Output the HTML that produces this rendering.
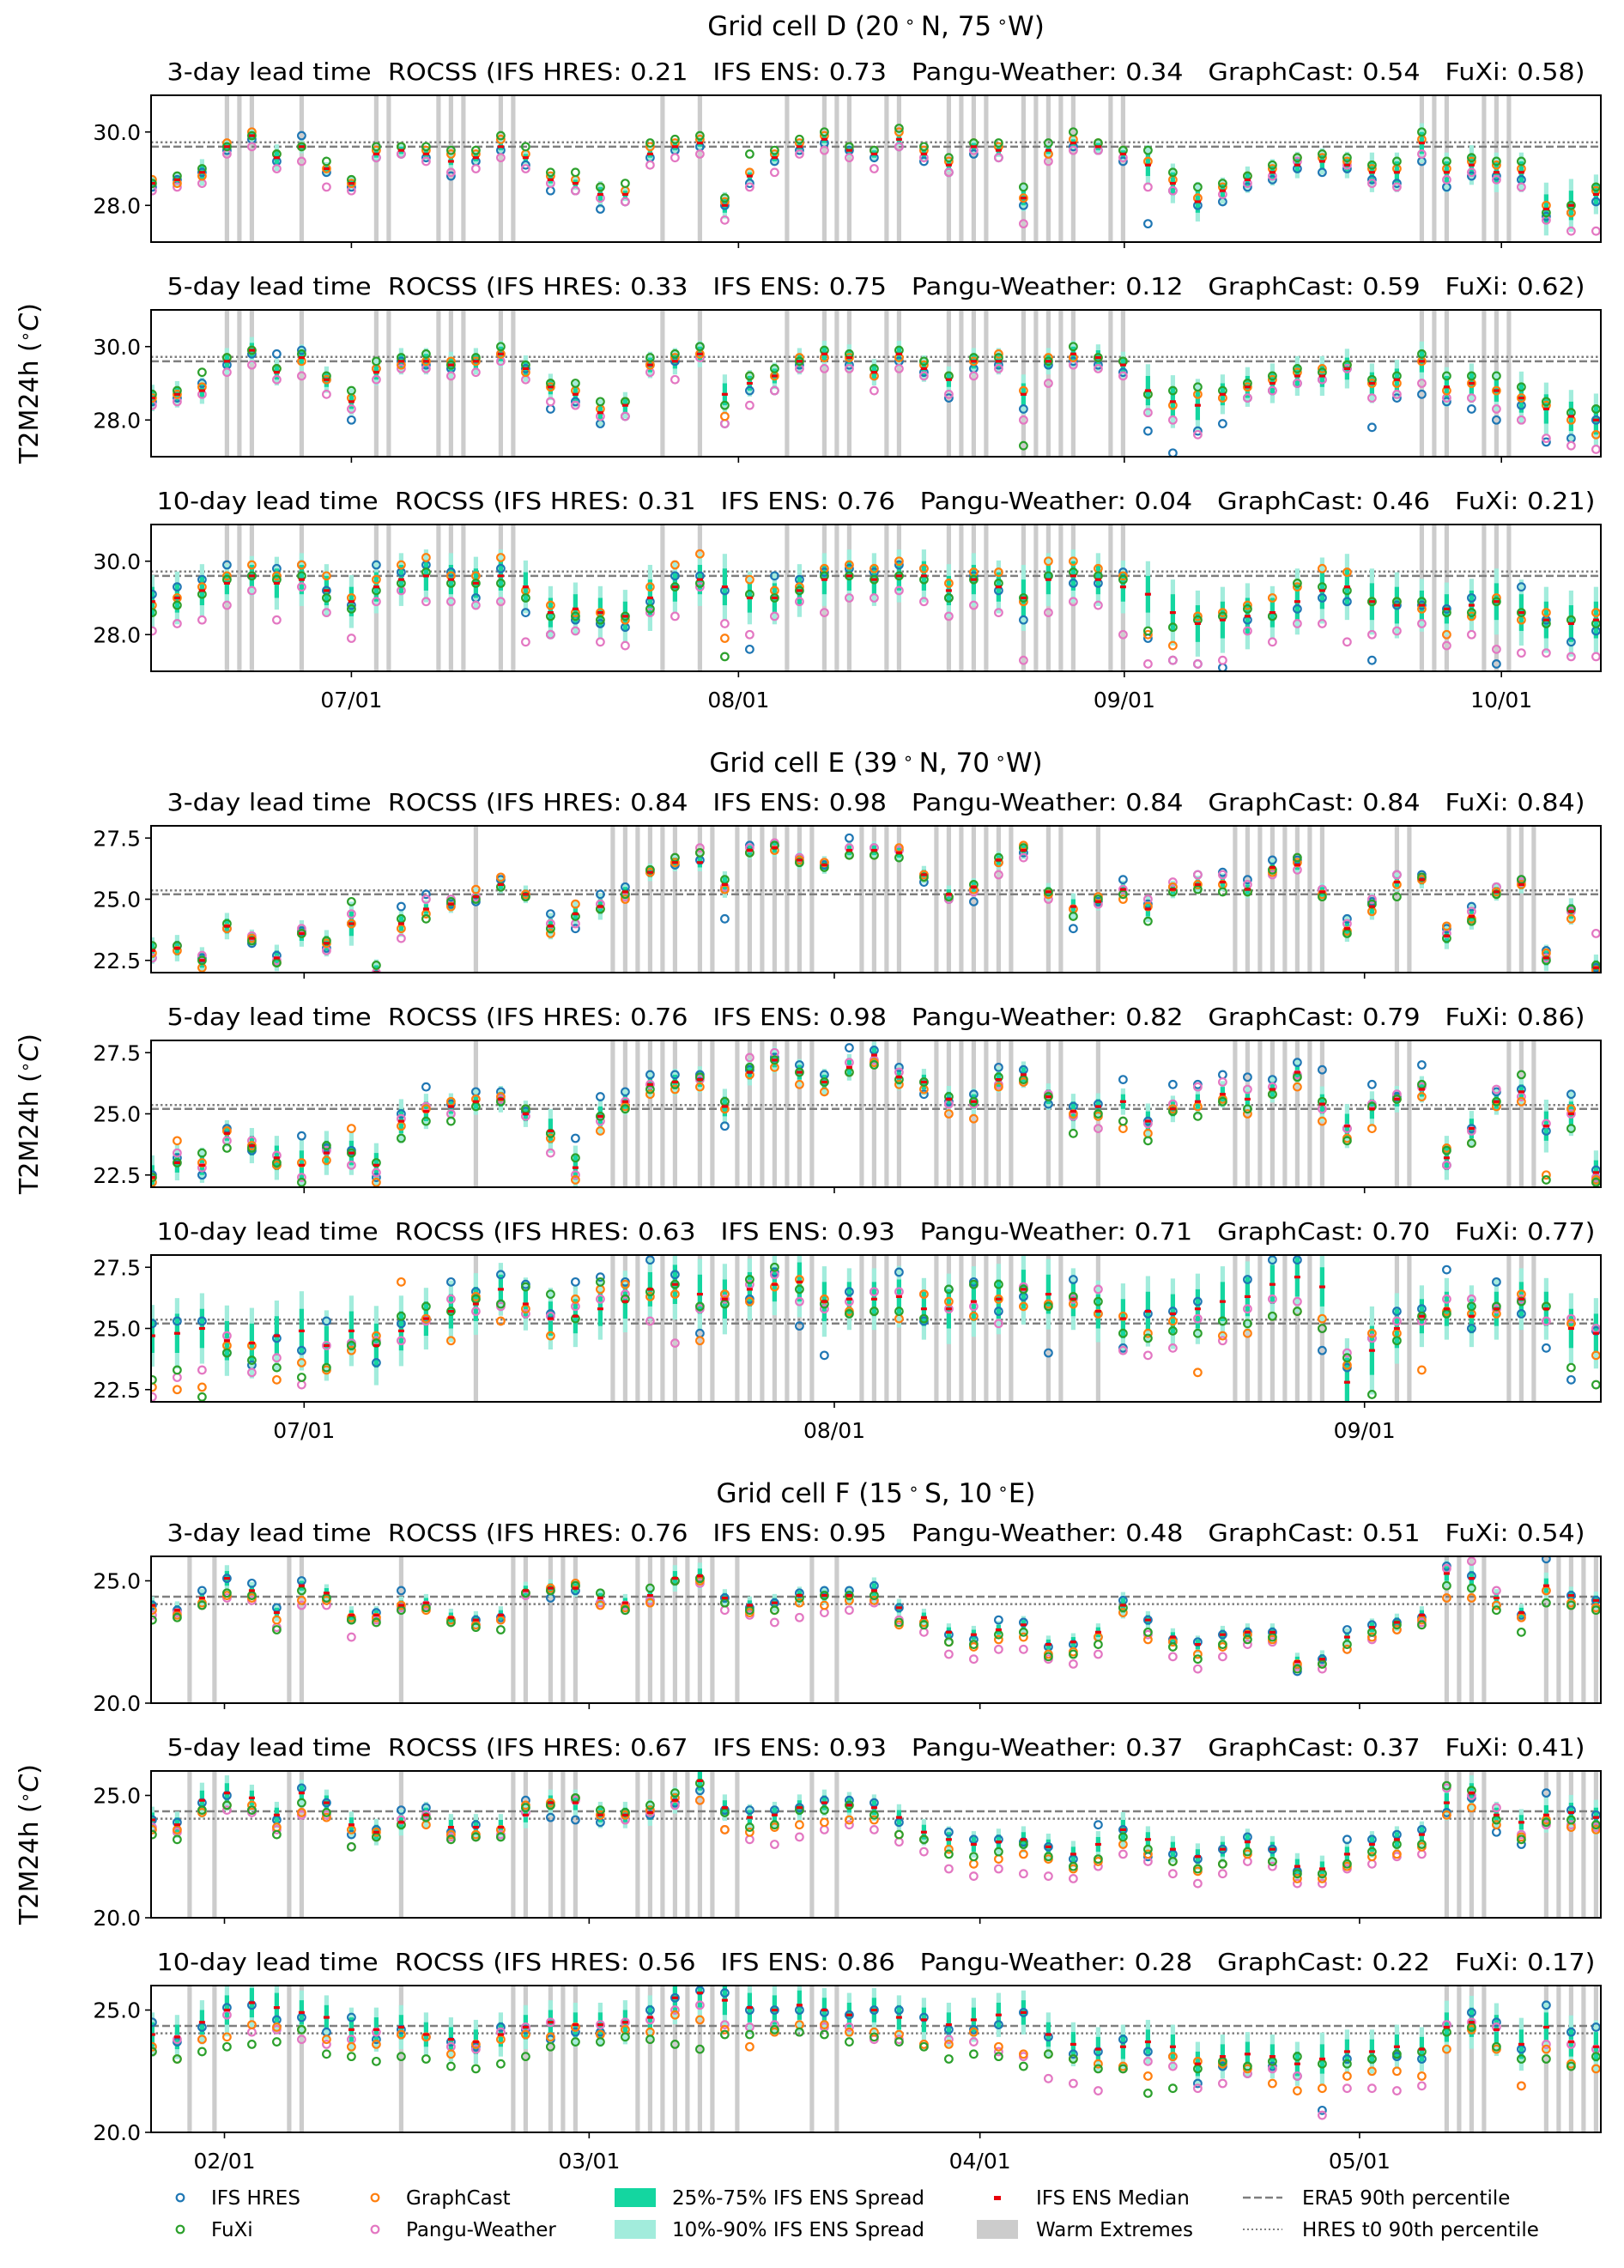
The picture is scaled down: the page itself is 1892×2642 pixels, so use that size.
<!DOCTYPE html>
<html><head><meta charset="utf-8"><style>
html,body{margin:0;padding:0;background:#fff;}
svg{display:block;font-family:"DejaVu Sans","Liberation Sans",sans-serif;}
.pre{white-space:pre;}
</style></head><body>
<svg id="fig" width="1892" height="2642" viewBox="0 0 1892 2642" xmlns="http://www.w3.org/2000/svg"></svg>
<script>
// ---------- DATA (every 2nd daily sample) ----------
const D3_med=[28.6,28.7,28.9,29.6,29.9,29.3,29.6,29.0,28.6,29.4,29.5,29.4,29.2,29.3,29.6,29.3,28.7,28.6,28.3,28.3,29.4,29.6,29.7,28.0,28.8,29.3,29.6,29.8,29.5,29.4,29.8,29.4,29.1,29.6,29.5,28.2,29.5,29.7,29.6,29.4,29.1,28.6,28.1,28.4,28.7,28.9,29.1,29.2,29.1,28.9,28.9,29.7,28.9,29.1,28.9,28.9,27.9,28.0,28.3];
const D3_hres=[28.5,28.7,28.9,29.5,29.8,29.2,29.9,28.9,28.5,29.3,29.4,29.3,28.8,29.2,29.5,29.1,28.4,28.4,27.9,28.1,29.3,29.5,29.6,28.0,28.6,29.2,29.5,29.7,29.5,29.3,29.6,29.2,28.9,29.4,29.3,28.0,29.4,29.6,29.5,29.2,27.5,28.4,28.0,28.1,28.5,28.7,29.0,28.9,29.0,28.7,28.6,29.2,28.5,28.8,28.8,28.7,27.7,27.8,28.1];
const D3_gc=[28.7,28.6,28.8,29.7,30.0,29.4,29.6,29.0,28.6,29.5,29.6,29.5,29.4,29.4,29.8,29.4,28.8,28.7,28.5,28.4,29.6,29.7,29.8,28.1,28.9,29.4,29.7,29.9,29.6,29.5,30.0,29.5,29.2,29.7,29.6,28.2,29.4,29.8,29.7,29.5,29.2,28.7,28.2,28.5,28.8,29.0,29.3,29.3,29.2,29.0,29.0,29.8,29.0,29.2,29.1,29.0,28.0,27.8,28.4];
const D3_fx=[28.6,28.8,29.0,29.6,29.9,29.4,29.6,29.2,28.7,29.6,29.6,29.6,29.5,29.5,29.9,29.6,28.9,28.9,28.5,28.6,29.7,29.8,29.9,28.2,29.4,29.5,29.8,30.0,29.6,29.5,30.1,29.6,29.3,29.7,29.7,28.5,29.7,30.0,29.7,29.5,29.5,28.9,28.5,28.6,28.8,29.1,29.3,29.4,29.3,29.1,29.2,30.0,29.2,29.3,29.2,29.2,27.8,28.0,28.5];
const D3_pw=[28.4,28.5,28.6,29.4,29.6,29.0,29.2,28.5,28.4,29.3,29.4,29.2,28.9,29.0,29.3,29.0,28.6,28.4,28.2,28.1,29.1,29.3,29.4,27.6,28.5,28.9,29.4,29.5,29.3,29.0,29.6,29.3,28.9,29.5,29.3,27.5,29.2,29.5,29.5,29.3,28.5,28.4,28.2,28.3,28.6,28.8,29.2,29.3,29.1,28.6,28.5,29.4,28.7,28.9,28.7,28.5,27.6,27.3,27.3];
const D3_sp=[1,1,2,1,1,2,1,1,1,1,1,1,1,1,1,1,1,1,2,1,1,1,1,2,1,1,1,1,1,1,1,1,1,1,1,2,1,1,1,1,3,3,3,2,2,2,2,2,2,3,3,3,3,3,3,3,4,4,3];

const D5_med=[28.6,28.7,28.8,29.6,29.9,29.3,29.7,29.1,28.5,29.3,29.6,29.6,29.5,29.6,29.8,29.4,28.9,28.7,28.2,28.4,29.5,29.6,29.8,28.7,29.0,29.2,29.6,29.8,29.7,29.3,29.8,29.4,29.1,29.6,29.6,28.7,29.6,29.8,29.7,29.5,28.8,28.5,28.4,28.7,28.9,29.0,29.2,29.2,29.4,29.0,29.1,29.6,28.9,29.0,28.8,28.6,28.3,28.1,28.0];
const D5_hres=[28.5,28.6,29.0,29.5,29.8,29.8,29.9,29.1,28.0,29.4,29.6,29.5,29.4,29.6,29.8,29.4,28.3,28.5,27.9,28.1,29.5,29.6,30.0,27.9,28.8,28.8,29.5,29.7,29.5,29.2,29.6,29.3,28.6,29.4,29.5,28.3,29.5,29.6,29.5,29.3,27.7,27.1,27.7,27.9,28.6,28.8,29.0,29.1,29.4,27.8,28.6,28.7,28.5,28.3,28.0,28.4,27.4,27.5,28.0];
const D5_gc=[28.6,28.7,28.9,29.7,29.9,29.4,29.6,29.1,28.6,29.4,29.5,29.6,29.6,29.6,29.8,29.3,28.9,28.8,28.3,28.5,29.5,29.7,29.8,28.1,29.2,29.2,29.7,29.7,29.7,29.2,29.7,29.5,29.2,29.6,29.8,28.8,29.7,29.7,29.7,29.6,28.7,28.4,28.7,28.6,28.9,29.1,29.3,29.4,29.5,29.0,29.0,29.6,28.8,29.0,28.8,28.6,28.4,28.0,27.6];
const D5_fx=[28.7,28.8,29.3,29.7,29.9,29.4,29.8,29.2,28.8,29.6,29.7,29.8,29.5,29.7,30.0,29.5,29.0,29.0,28.5,28.5,29.7,29.8,30.0,28.4,29.2,29.4,29.6,29.9,29.8,29.4,29.9,29.6,29.2,29.7,29.7,27.3,29.6,30.0,29.7,29.6,28.7,28.8,28.9,28.8,29.0,29.2,29.4,29.3,29.5,29.1,29.2,29.8,29.2,29.2,29.2,28.9,28.5,28.2,28.3];
const D5_pw=[28.4,28.5,28.7,29.3,29.5,29.1,29.2,28.7,28.3,29.1,29.4,29.4,29.2,29.3,29.6,29.1,28.5,28.4,28.1,28.1,29.3,29.1,29.7,27.9,28.4,28.8,29.4,29.4,29.4,28.8,29.4,29.2,28.7,29.2,29.4,28.0,29.0,29.5,29.4,29.2,28.2,28.0,27.6,28.6,28.6,28.8,29.0,29.1,29.4,28.6,28.7,29.0,28.6,28.6,28.3,28.0,27.5,27.3,27.2];
const D5_sp=[2,2,2,2,2,2,2,2,2,2,2,2,2,2,2,2,2,2,2,2,2,2,2,3,2,2,2,2,2,2,2,2,2,2,2,3,2,2,2,2,4,4,4,3,3,3,3,3,3,3,3,3,3,3,3,4,4,4,4];

const D10_med=[28.9,29.0,29.2,29.4,29.6,29.4,29.5,29.2,28.9,29.3,29.5,29.6,29.5,29.4,29.6,29.3,28.6,28.7,28.6,28.5,29.0,29.3,29.5,29.3,29.0,29.0,29.2,29.5,29.6,29.5,29.6,29.6,29.2,29.5,29.3,29.0,29.5,29.6,29.5,29.3,29.1,28.6,28.3,28.4,28.5,28.6,28.9,29.2,29.3,28.9,28.8,28.8,28.7,28.8,28.9,28.6,28.4,28.3,28.4];
const D10_hres=[29.1,29.3,29.5,29.9,29.6,29.8,29.9,29.2,28.8,29.9,29.7,29.9,29.7,29.0,29.8,28.6,28.0,28.4,28.3,28.2,28.9,29.6,29.6,29.2,27.6,29.6,29.5,29.7,29.8,29.7,29.9,29.8,29.0,29.6,29.2,28.4,29.6,29.4,29.4,29.7,27.9,27.3,27.2,27.1,28.4,28.5,28.7,29.0,28.9,27.3,28.8,28.8,28.7,29.0,27.2,29.3,28.4,27.8,28.1];
const D10_gc=[28.8,29.0,29.3,29.6,29.9,29.6,29.9,29.6,29.0,29.5,29.9,30.1,29.6,29.6,30.1,29.2,28.8,28.6,28.6,28.4,29.3,29.9,30.2,27.9,29.5,29.2,29.3,29.8,29.9,29.8,30.0,29.8,29.4,29.7,29.7,28.9,30.0,30.0,29.8,29.6,28.0,27.7,28.5,28.6,28.8,29.0,29.3,29.8,29.7,28.9,28.9,28.7,28.0,28.5,29.0,28.4,28.6,28.4,28.6];
const D10_fx=[28.6,28.8,29.1,29.5,29.6,29.5,29.6,29.0,28.7,29.2,29.4,29.7,29.4,29.4,29.4,29.0,28.5,28.5,28.4,28.5,28.7,29.3,29.4,27.4,29.1,29.0,29.2,29.6,29.6,29.5,29.6,29.5,29.0,29.5,29.4,29.0,29.6,29.7,29.6,29.5,28.1,28.2,28.4,28.5,28.7,28.5,29.4,29.3,29.2,28.9,28.9,28.9,28.6,28.6,28.9,28.6,28.3,28.4,28.3];
const D10_pw=[28.1,28.3,28.4,28.8,29.2,28.4,29.3,28.6,27.9,28.9,29.2,28.9,28.9,28.8,28.9,27.8,28.0,28.1,27.8,27.7,28.6,28.5,29.3,28.3,28.0,28.5,28.9,28.6,29.0,29.0,29.2,28.9,28.5,28.8,28.6,27.3,28.6,28.9,28.8,28.0,27.2,27.3,27.2,27.3,28.1,27.8,28.3,28.3,27.8,28.0,28.1,28.3,27.7,28.0,27.6,27.5,27.5,27.4,27.4];
const D10_sp=[4,4,4,3,3,4,4,4,4,4,4,4,4,4,4,4,4,4,4,4,5,4,4,5,4,4,4,4,4,4,4,4,4,4,4,5,4,4,4,4,5,5,5,5,5,4,5,5,5,5,5,4,4,4,5,5,5,5,5];

const E3_med=[22.9,23.0,22.5,23.9,23.4,22.6,23.6,23.2,24.0,22.0,24.0,24.6,24.8,25.1,25.6,25.2,23.9,24.4,24.7,25.3,26.1,26.5,26.5,25.6,27.0,27.1,26.6,26.4,27.0,27.0,26.9,26.0,25.2,25.5,26.6,27.0,25.3,24.7,24.9,25.4,24.6,25.4,25.6,25.7,25.4,26.3,26.4,25.3,23.8,24.7,25.7,25.8,23.5,24.3,25.3,25.6,22.6,24.5,22.2];
const E3_hres=[22.6,23.1,22.6,23.8,23.2,22.7,23.7,23.0,24.0,21.9,24.7,25.2,24.8,24.9,25.8,25.1,24.4,23.8,25.2,25.5,26.1,26.4,26.6,24.2,27.2,27.2,26.7,26.4,27.5,27.1,27.0,25.7,25.0,24.9,26.5,26.9,25.2,23.8,24.9,25.8,24.8,25.5,26.0,26.1,25.8,26.6,26.6,25.4,24.2,24.9,26.0,26.0,23.8,24.7,25.5,25.8,22.9,24.6,22.2];
const E3_gc=[22.8,22.9,22.2,23.8,23.4,22.4,23.6,23.2,24.0,21.8,23.8,24.4,24.7,25.4,25.9,25.2,23.6,24.8,24.6,25.0,26.1,26.5,26.9,25.4,26.9,27.0,26.6,26.5,26.8,26.8,27.1,26.0,25.1,25.4,26.5,27.2,25.2,24.6,25.1,25.0,24.7,25.5,25.6,25.6,25.3,26.1,26.5,25.2,23.7,24.5,25.6,25.8,23.9,24.2,25.3,25.6,22.8,24.2,22.1];
const E3_fx=[23.1,23.1,22.5,24.0,23.3,22.4,23.6,23.3,24.9,22.3,24.2,24.2,24.9,25.0,25.5,25.1,23.8,24.3,24.6,25.2,26.2,26.7,26.9,25.8,26.9,27.2,26.5,26.3,26.8,26.8,26.7,25.9,25.1,25.6,26.7,27.1,25.3,24.3,25.0,25.2,24.1,25.3,25.4,25.3,25.3,26.2,26.7,25.1,23.6,24.8,25.1,25.9,23.4,24.1,25.2,25.8,22.5,24.6,22.3];
const E3_pw=[22.6,23.1,22.7,23.8,23.5,22.5,23.8,22.9,24.4,22.0,23.4,25.0,25.0,25.1,25.5,25.2,24.0,24.0,24.8,25.1,26.2,26.7,27.1,25.5,27.1,27.3,26.7,26.5,27.1,27.1,27.0,26.0,25.0,25.3,26.0,26.7,25.0,24.6,24.8,25.4,25.0,25.7,26.0,26.0,25.6,26.0,26.2,25.4,24.0,25.0,26.0,25.9,23.6,24.5,25.5,25.7,22.6,24.5,23.6];
const E3_sp=[3,3,3,3,2,3,3,3,5,3,3,2,2,2,2,2,3,3,3,2,2,2,2,3,2,2,2,2,2,2,2,2,2,2,2,2,2,3,2,2,3,2,2,2,2,2,2,2,3,3,2,2,3,3,2,2,3,3,3];

const E5_med=[22.4,23.0,22.9,24.2,23.7,23.2,22.9,23.4,23.4,22.9,24.7,25.1,25.3,25.5,25.6,25.0,24.3,22.8,24.9,25.5,26.2,26.3,26.4,25.3,26.7,27.2,26.7,26.3,26.9,27.4,26.5,26.3,25.6,25.5,26.4,26.6,25.7,25.1,25.3,25.5,24.7,25.2,25.5,25.8,25.6,26.0,26.7,25.4,24.5,25.2,25.6,26.0,23.2,24.4,25.5,25.9,24.5,25.0,22.6];
const E5_hres=[22.5,23.2,22.5,24.4,23.5,22.9,24.1,23.6,23.5,22.4,25.0,26.1,25.4,25.9,25.9,25.1,24.2,24.0,25.7,25.9,26.6,26.6,26.6,24.5,26.8,27.3,27.0,26.6,27.7,27.6,26.9,25.8,25.5,25.8,26.9,26.8,25.4,25.3,25.4,26.4,24.7,26.2,26.2,26.6,26.5,26.4,27.1,26.8,24.4,26.2,25.7,27.0,22.9,24.4,25.9,26.0,24.3,25.8,22.7];
const E5_gc=[22.2,23.9,23.0,24.3,23.7,22.9,23.0,23.1,24.4,22.2,24.5,25.2,25.5,25.6,25.7,25.2,24.0,22.3,24.3,25.3,25.8,26.0,26.1,25.2,26.6,26.9,26.2,25.9,26.7,27.1,26.2,26.0,25.0,24.8,26.1,26.3,25.7,25.0,24.9,24.4,24.2,25.2,25.3,25.6,25.0,25.8,26.1,24.7,24.0,24.4,25.6,25.7,23.6,23.8,25.3,25.5,22.5,25.2,22.3];
const E5_fx=[22.4,23.0,23.4,23.6,23.6,23.0,22.2,23.7,23.4,23.0,24.0,24.7,24.7,25.3,25.5,25.2,24.2,23.2,24.9,25.2,26.0,26.2,26.5,25.5,26.9,27.2,26.7,26.3,26.7,27.0,26.4,26.3,25.7,25.5,26.5,26.4,25.7,24.2,25.0,24.7,23.9,25.1,24.9,25.5,25.2,25.8,26.5,25.5,23.9,25.3,25.6,26.2,23.5,23.8,25.5,26.6,22.3,24.4,22.2];
const E5_pw=[22.4,23.4,22.8,23.9,23.9,23.3,22.4,23.5,22.9,22.6,24.8,25.3,25.0,25.6,25.6,24.9,23.4,22.5,24.7,25.5,26.2,26.2,26.4,25.5,27.3,27.5,26.7,26.3,27.1,27.2,26.7,26.3,25.4,25.4,26.2,26.3,25.8,24.9,24.4,24.7,24.6,25.4,26.1,26.3,26.0,26.1,26.6,25.2,24.4,25.4,25.8,26.1,22.9,24.3,26.0,25.7,24.6,25.0,22.4];
const E5_sp=[5,4,4,3,4,5,6,5,5,5,5,4,3,3,3,3,5,5,4,3,3,3,3,4,3,3,3,3,3,3,3,3,3,3,3,3,3,4,3,3,4,3,3,3,3,3,3,4,5,4,3,3,5,4,3,3,6,5,5];

const E10_med=[24.7,24.8,25.0,24.5,24.4,24.7,24.9,24.3,24.9,24.3,24.9,25.4,25.7,26.0,26.6,26.0,25.4,25.5,25.8,26.1,26.6,26.8,26.4,26.2,26.6,26.8,26.9,26.1,26.2,26.2,26.3,25.8,25.8,26.1,26.2,26.6,26.4,26.2,25.7,25.4,25.7,25.6,25.8,26.1,26.3,26.8,27.1,26.7,22.8,24.1,25.0,25.5,25.8,25.5,25.8,26.2,25.8,25.0,24.8];
const E10_hres=[25.2,25.3,25.3,24.0,23.5,24.6,24.1,25.3,24.4,23.6,25.2,25.4,26.9,26.5,27.2,26.8,25.6,26.9,27.1,26.9,27.8,27.2,24.8,26.4,26.2,27.3,25.1,23.9,26.5,26.5,27.3,25.3,26.6,26.9,25.7,26.3,24.0,27.0,25.6,24.2,25.6,25.7,26.1,25.3,27.0,27.8,27.8,24.1,23.4,24.6,25.7,25.8,27.4,25.0,26.9,25.6,24.2,22.9,24.9];
const E10_gc=[22.6,22.5,22.6,24.3,24.3,22.9,23.6,23.3,24.1,24.7,26.9,25.4,24.5,26.3,25.3,25.8,24.7,26.2,26.6,26.8,26.3,26.4,24.5,26.4,26.1,26.7,27.0,26.2,25.7,25.7,25.4,26.4,26.1,25.5,26.2,25.9,26.0,26.0,25.6,25.5,24.8,25.3,23.2,24.7,24.8,25.5,25.7,25.4,23.5,24.8,24.8,23.3,25.7,25.6,25.6,26.4,25.9,25.2,23.9];
const E10_fx=[22.9,23.3,22.2,24.0,23.7,23.4,23.0,23.4,24.3,24.4,25.5,25.9,25.7,26.2,26.0,26.7,26.4,25.4,26.9,26.2,26.5,26.8,25.9,26.0,27.0,27.5,26.6,26.0,25.6,25.7,25.7,25.4,26.6,26.8,26.8,26.6,25.9,26.3,26.1,24.8,24.6,24.9,24.8,25.3,25.2,25.5,25.7,25.0,23.8,22.3,24.5,25.5,25.6,25.9,25.9,26.1,25.9,23.4,22.7];
const E10_pw=[22.2,23.0,23.3,24.7,23.2,23.8,22.7,24.3,24.4,24.5,24.5,25.3,26.2,25.7,25.9,25.6,25.5,25.9,26.2,26.4,25.3,24.4,25.8,26.2,26.8,27.2,26.1,25.8,26.1,26.5,26.5,26.4,25.8,25.9,25.2,26.7,26.0,26.2,26.6,24.1,23.9,24.2,25.4,24.5,25.8,26.2,26.1,25.0,24.0,24.6,25.3,25.3,26.2,26.2,25.8,26.2,25.3,25.4,25.0];
const E10_sp=[7,8,8,8,8,8,9,8,8,9,8,7,7,7,6,6,7,7,7,7,7,8,8,8,7,7,8,8,7,7,7,7,8,8,8,8,8,7,7,8,8,8,8,8,8,8,8,8,10,10,8,7,7,7,7,7,7,8,8];

const F3_med=[24.0,23.8,24.3,25.1,24.6,23.7,24.8,24.5,23.6,23.6,24.0,24.1,23.5,23.4,23.6,24.6,24.7,24.7,24.3,24.1,24.4,25.1,25.2,24.3,24.0,24.1,24.4,24.4,24.4,24.6,23.9,23.5,22.9,22.8,23.0,23.2,22.4,22.5,22.9,24.0,23.4,22.7,22.4,22.8,22.9,22.9,21.7,21.8,22.7,23.1,23.3,23.6,25.3,25.1,24.3,23.7,24.8,24.4,24.2];
const F3_hres=[24.0,23.8,24.6,25.1,24.9,23.9,25.0,24.3,23.4,23.7,24.6,24.0,23.4,23.4,23.5,24.5,24.3,24.6,24.1,23.8,24.2,25.0,25.1,24.3,23.9,24.1,24.5,24.6,24.6,24.8,23.9,23.3,22.8,22.6,23.4,23.3,22.3,22.4,22.7,24.2,23.4,22.6,22.5,22.8,22.9,22.9,21.3,21.8,23.0,23.2,23.3,23.5,25.6,25.2,24.0,23.6,25.9,24.4,24.2];
const F3_gc=[23.8,23.6,24.1,24.4,24.3,23.4,24.2,24.2,23.5,23.5,24.0,23.8,23.4,23.2,23.4,24.5,24.7,24.9,24.0,23.9,24.1,25.0,25.0,24.1,23.7,23.8,24.1,24.0,24.2,24.2,23.2,23.3,22.5,22.3,22.6,22.7,22.0,22.1,22.7,23.7,22.6,22.5,22.0,22.3,22.8,22.6,21.6,21.6,22.2,22.7,23.0,23.4,24.3,24.3,24.0,23.5,24.6,24.1,23.9];
const F3_fx=[23.4,23.5,24.0,24.5,24.4,23.0,24.6,24.3,23.4,23.3,23.8,23.9,23.3,23.1,23.0,24.5,24.6,24.8,24.5,23.8,24.7,25.0,25.1,24.1,23.8,23.8,24.3,24.4,24.4,24.4,23.3,23.2,22.5,22.4,22.8,22.9,21.9,22.0,22.4,23.9,22.9,22.3,21.8,22.4,22.6,22.7,21.4,21.6,22.4,22.9,23.2,23.2,24.8,24.7,23.8,22.9,24.1,24.0,23.8];
const F3_pw=[23.6,23.7,24.0,24.3,24.2,23.1,24.0,24.0,22.7,23.4,23.9,24.0,23.4,23.2,23.4,24.4,24.6,24.8,24.1,24.0,24.2,25.0,24.9,23.8,23.6,23.3,23.5,23.7,23.8,24.1,23.4,22.9,22.0,21.8,22.2,22.2,21.8,21.6,22.0,23.9,22.8,21.9,21.4,21.9,22.4,22.5,21.5,21.4,22.2,22.6,23.0,23.3,25.5,25.8,24.6,23.5,24.6,24.0,23.9];
const F3_sp=[2,2,2,3,2,2,2,2,2,2,2,2,2,2,2,2,2,2,2,2,2,3,3,2,2,2,2,2,2,3,2,2,2,2,2,2,2,2,2,3,2,2,2,2,2,2,2,2,2,2,2,2,3,3,2,2,3,2,2];

const F5_med=[24.0,23.8,24.8,25.1,24.9,24.2,25.1,24.7,23.8,23.5,23.9,24.2,23.7,23.7,23.7,24.2,24.7,24.7,24.2,24.2,24.3,24.8,25.6,24.5,24.1,24.2,24.5,24.7,24.6,24.5,24.1,23.5,23.2,23.0,23.1,23.2,22.9,22.6,23.0,23.6,23.2,22.8,22.5,22.8,23.1,22.8,22.1,22.0,22.6,23.0,23.2,23.4,24.7,25.1,24.2,23.9,24.2,24.3,24.1];
const F5_hres=[24.0,23.9,24.7,25.0,24.4,24.0,25.3,24.7,23.4,23.6,24.4,24.5,23.5,23.8,23.6,24.8,24.1,24.0,23.9,24.3,24.2,24.7,25.2,24.4,24.4,24.4,24.5,24.8,24.8,24.7,23.9,23.2,23.5,23.2,23.2,23.1,22.9,22.4,23.8,23.6,22.5,22.6,22.4,22.8,23.3,22.8,21.9,21.8,23.2,23.2,23.4,23.6,24.3,24.9,23.5,23.0,25.1,24.4,24.2];
const F5_gc=[23.6,23.6,24.3,24.6,24.6,23.7,24.3,24.1,23.6,23.5,23.8,23.8,23.4,23.4,23.6,24.6,24.7,24.9,24.2,24.2,24.4,24.9,24.8,23.6,23.5,23.7,23.8,23.9,24.0,24.0,23.4,23.2,22.8,22.2,22.4,22.6,22.4,22.0,22.3,23.0,22.6,22.3,21.9,22.2,22.6,22.3,21.6,21.6,22.1,22.5,22.6,22.9,24.2,24.5,23.8,23.3,24.0,23.7,23.6];
const F5_fx=[23.4,23.2,24.4,24.6,24.4,23.4,24.7,24.3,22.9,23.3,23.8,24.1,23.2,23.3,23.3,24.5,24.6,24.9,24.4,24.3,24.6,25.1,25.5,24.3,23.7,23.8,24.4,24.4,24.6,24.2,23.4,23.2,22.6,22.5,22.7,23.0,22.5,22.1,22.4,23.3,22.8,22.3,22.0,22.2,22.7,22.3,21.8,21.8,22.2,22.7,23.0,23.0,25.4,25.2,24.0,23.2,23.9,24.0,23.8];
const F5_pw=[23.7,23.5,24.3,24.4,24.3,23.6,24.2,24.2,22.9,23.3,24.0,24.2,23.3,23.3,23.4,24.3,24.6,24.8,24.2,24.0,24.3,24.6,24.8,23.6,23.2,23.0,23.3,23.6,23.8,23.6,23.1,22.7,22.0,21.7,22.0,21.8,21.7,21.6,22.1,22.6,22.3,21.8,21.4,21.8,22.3,22.1,21.4,21.4,22.0,22.2,22.5,22.6,25.3,25.0,24.5,23.4,23.8,23.8,23.7];
const F5_sp=[3,3,4,4,3,3,3,3,3,3,3,3,3,3,3,3,3,3,3,3,3,3,4,3,3,3,3,3,3,3,3,3,3,3,3,3,3,3,3,4,3,3,3,3,3,3,3,3,3,3,3,3,4,4,3,3,4,4,4];

const F10_med=[24.0,23.9,24.5,25.0,25.3,25.1,24.9,24.7,24.2,24.2,24.3,24.0,23.8,23.7,24.0,24.3,24.5,24.4,24.4,24.5,24.7,25.5,25.7,25.4,25.1,25.0,25.2,25.0,24.8,25.0,24.7,24.6,24.4,24.6,24.8,24.9,24.0,23.6,23.4,23.5,23.7,23.5,22.8,23.1,23.2,23.1,22.8,23.0,23.3,23.3,23.5,23.4,24.3,24.5,24.2,23.6,24.3,23.7,23.5];
const F10_hres=[24.5,23.7,24.3,25.1,25.2,24.6,24.7,24.1,24.7,23.8,24.2,23.9,23.7,23.5,24.3,24.2,23.8,24.1,24.1,24.2,25.0,25.5,25.8,25.7,25.0,25.0,25.0,24.9,24.8,25.0,25.0,24.7,24.2,24.2,24.4,24.9,23.9,23.2,23.3,23.8,23.3,23.1,22.0,22.7,22.4,22.7,22.3,20.9,23.0,23.0,23.1,23.0,24.4,24.9,24.5,23.4,25.2,24.1,24.3];
const F10_gc=[23.5,23.0,23.8,23.9,24.4,24.3,24.2,23.8,23.5,23.6,24.0,23.9,23.2,23.6,23.8,24.0,23.9,24.3,24.0,24.2,24.1,24.8,24.6,24.2,23.5,24.1,24.4,24.4,24.1,24.1,24.0,23.6,23.6,24.1,23.5,23.2,23.2,23.0,22.8,22.7,22.3,23.1,22.9,22.8,22.6,22.0,21.7,21.8,22.3,22.5,22.5,22.3,23.4,24.2,23.4,21.9,23.4,22.8,22.6];
const F10_fx=[23.3,23.0,23.3,23.5,23.6,23.7,24.2,23.2,23.1,22.9,23.1,23.0,22.7,22.6,22.8,23.1,23.5,23.7,23.7,23.9,23.8,23.6,23.4,24.0,24.0,24.2,24.1,24.0,23.7,23.9,23.7,23.5,23.0,23.2,23.1,22.7,23.2,23.0,22.6,22.6,21.6,21.8,22.6,22.9,22.7,22.9,23.1,22.8,22.8,23.0,23.2,23.3,24.1,24.3,23.5,23.0,23.0,22.7,23.1];
const F10_pw=[23.3,23.8,23.8,24.8,24.1,24.2,23.8,23.6,23.8,24.1,24.0,23.9,23.5,23.4,24.1,24.3,24.5,24.3,24.4,24.5,24.6,25.0,25.2,24.4,24.3,24.4,24.1,24.3,24.3,23.8,23.8,23.6,23.8,23.7,23.3,23.1,22.2,22.0,21.7,22.6,22.9,22.7,21.8,22.0,22.4,22.6,22.3,20.7,21.8,21.8,21.7,21.9,24.4,24.5,24.3,21.9,23.6,23.6,23.4];
const F10_sp=[5,5,5,6,6,6,5,5,5,5,5,5,5,5,5,5,5,5,5,5,5,6,6,6,6,6,6,5,5,5,5,5,5,5,5,5,5,5,5,5,5,5,5,5,5,5,5,6,5,5,5,5,6,6,6,6,6,6,6];

// warm extremes (daily sample index), thresholds, ticks
const D_warm=[6,7,8,12,18,19,23,24,25,28,29,41,44,51,54,55,56,59,60,64,65,66,67,70,71,72,73,74,77,78,102,103,104,107,108,109];
const E_warm=[26,37,38,39,40,41,42,44,45,47,48,49,50,51,52,53,57,58,59,60,63,64,65,66,67,68,69,72,73,76,87,88,89,90,91,92,93,94,100,101,109,110,111];
const F_warm=[3,5,11,12,20,29,30,32,33,34,39,40,41,42,43,44,45,47,53,55,104,105,106,107,112,113,114,115,116,117];
const D_thr=[29.6,29.72], E_thr=[25.2,25.36], F_thr=[24.35,24.05];
const D_xtickLabels=['07/01','08/01','09/01','10/01'];
const E_xtickLabels=['07/01','08/01','09/01'];
const F_xtickLabels=['02/01','03/01','04/01','05/01'];
const D_xtickSample=[16.0,47.1,78.1,108.4];
const E_xtickSample=[12.2,54.8,97.4];
const F_xtickSample=[5.8,35.1,66.5,97.0];
const D_yticks=[28.0,30.0], E_yticks=[22.5,25.0,27.5], F_yticks=[20.0,25.0];
const D_rocss=[[0.21,0.73,0.34,0.54,0.58],[0.33,0.75,0.12,0.59,0.62],[0.31,0.76,0.04,0.46,0.21]];
const E_rocss=[[0.84,0.98,0.84,0.84,0.84],[0.76,0.98,0.82,0.79,0.86],[0.63,0.93,0.71,0.70,0.77]];
const F_rocss=[[0.76,0.95,0.48,0.51,0.54],[0.67,0.93,0.37,0.37,0.41],[0.56,0.86,0.28,0.22,0.17]];

// ---------- DRAWING ----------
const NS='http://www.w3.org/2000/svg';
const svg=document.getElementById('fig');
function mk(tag,attrs,parent){const e=document.createElementNS(NS,tag);for(const k in attrs)e.setAttribute(k,attrs[k]);(parent||svg).appendChild(e);return e;}
const L=176,R=1865,H=171,SX=14.5,X0=177.4;
const xOf=k=>X0+k*SX;
const COL={hres:'#1f77b4',gc:'#ff7f0e',fx:'#2ca02c',pw:'#e377c2'};
const cells=[
 {id:'d',title:['Grid cell D (20','∘','N, 75','∘','W)'],ty:41,tops:[111,361,611],ylim:[27,31],yt:D_yticks,warm:D_warm,thr:D_thr,xs:D_xtickSample,xl:D_xtickLabels,roc:D_rocss,
  p:[[D3_med,D3_hres,D3_gc,D3_fx,D3_pw,D3_sp],[D5_med,D5_hres,D5_gc,D5_fx,D5_pw,D5_sp],[D10_med,D10_hres,D10_gc,D10_fx,D10_pw,D10_sp]]},
 {id:'e',title:['Grid cell E (39','∘','N, 70','∘','W)'],ty:899,tops:[962,1212,1462],ylim:[22,28],yt:E_yticks,warm:E_warm,thr:E_thr,xs:E_xtickSample,xl:E_xtickLabels,roc:E_rocss,
  p:[[E3_med,E3_hres,E3_gc,E3_fx,E3_pw,E3_sp],[E5_med,E5_hres,E5_gc,E5_fx,E5_pw,E5_sp],[E10_med,E10_hres,E10_gc,E10_fx,E10_pw,E10_sp]]},
 {id:'f',title:['Grid cell F (15','∘','S, 10','∘','E)'],ty:1750,tops:[1813,2063,2313],ylim:[20,26],yt:F_yticks,warm:F_warm,thr:F_thr,xs:F_xtickSample,xl:F_xtickLabels,roc:F_rocss,
  p:[[F3_med,F3_hres,F3_gc,F3_fx,F3_pw,F3_sp],[F5_med,F5_hres,F5_gc,F5_fx,F5_pw,F5_sp],[F10_med,F10_hres,F10_gc,F10_fx,F10_pw,F10_sp]]}
];
const leads=['3-day','5-day','10-day'];
cells.forEach((c,ci)=>{
 const t=mk('text',{x:(L+R)/2,y:c.ty,'text-anchor':'middle','font-size':31,fill:'#000'});
 
 
 t.innerHTML=c.title[0]+'<tspan dy="-9" font-size="20"> '+c.title[1]+' </tspan><tspan dy="9">'+c.title[2]+'</tspan><tspan dy="-9" font-size="20"> '+c.title[3]+'</tspan><tspan dy="9">'+c.title[4]+'</tspan>';
 const yl=mk('text',{x:0,y:0,'text-anchor':'middle','font-size':30,transform:`translate(44,${c.tops[1]+H/2}) rotate(-90)`});
 
 
 yl.innerHTML='T2M24h (<tspan dy="-8" font-size="20">∘</tspan><tspan dy="8" font-style="italic">C</tspan>)';
 c.p.forEach((pd,pi)=>{
  const top=c.tops[pi],bot=top+H,[y0,y1]=c.ylim;
  const yOf=v=>bot-(v-y0)/(y1-y0)*H;
  const g=mk('g',{});
  
  
  const cid='clip'+ci+pi;
  const cp=mk('clipPath',{id:cid},g);mk('rect',{x:L,y:top,width:R-L,height:H},cp);
  const r=c.roc[pi];
  const st=mk('text',{x:(L+R)/2,y:top-18,'text-anchor':'middle','font-size':28,'class':'pre',textLength:pi==2?1676:1652,lengthAdjust:'spacingAndGlyphs'},g);
  
  
  st.textContent=`${leads[pi]} lead time  ROCSS (IFS HRES: ${r[0].toFixed(2)}   IFS ENS: ${r[1].toFixed(2)}   Pangu-Weather: ${r[2].toFixed(2)}   GraphCast: ${r[3].toFixed(2)}   FuXi: ${r[4].toFixed(2)})`;
  const pl=mk('g',{'clip-path':`url(#${cid})`},g);
  c.warm.forEach(k=>{const b=mk('rect',{x:xOf(k)-2.6,y:top,width:5.2,height:H,fill:'#cccccc'},pl);
   
   });
  const [med,hres,gc,fx,pw,sp]=pd;
  const l1=mk('line',{x1:L,x2:R,y1:yOf(c.thr[0]),y2:yOf(c.thr[0]),stroke:'#7f7f7f','stroke-width':2.5,'stroke-dasharray':'9,4'},pl);
  
  
  const l2=mk('line',{x1:L,x2:R,y1:yOf(c.thr[1]),y2:yOf(c.thr[1]),stroke:'#7f7f7f','stroke-width':2.5,'stroke-dasharray':'2.5,3'},pl);
  
  
  med.forEach((m,i)=>{const x=xOf(2*i),s=sp[i]/10,s9=s*1.8;
   const a=mk('rect',{x:x-2.6,y:yOf(m+s9),width:5.2,height:yOf(m-s9)-yOf(m+s9),fill:'#a2ecdc'},pl);
   
   
   const b=mk('rect',{x:x-2.6,y:yOf(m+s),width:5.2,height:yOf(m-s)-yOf(m+s),fill:'#14d6a0'},pl);
   
   });
  [['hres',hres],['pw',pw],['gc',gc],['fx',fx]].forEach(([n,arr])=>{
   arr.forEach((v,i)=>{const cc=mk('circle',{cx:xOf(2*i),cy:yOf(v),r:4.3,fill:'none',stroke:COL[n],'stroke-width':2.2},pl);
    
    });
  });
  med.forEach((m,i)=>{const q=mk('rect',{x:xOf(2*i)-3.5,y:yOf(m)-1.6,width:7,height:3.2,fill:'#e8000b'},pl);
   
   });
  const fr=mk('rect',{x:L,y:top,width:R-L,height:H,fill:'none',stroke:'#000','stroke-width':2},g);
  
  
  c.yt.forEach(v=>{const y=yOf(v);mk('line',{x1:L-7,x2:L,y1:y,y2:y,stroke:'#000','stroke-width':1.6},g);
   const tl=mk('text',{x:L-12,y:y+9,'text-anchor':'end','font-size':25},g);
   
   
   tl.textContent=v.toFixed(1);});
  c.xs.forEach((k,j)=>{const x=xOf(k);mk('line',{x1:x,x2:x,y1:bot,y2:bot+7,stroke:'#000','stroke-width':1.6},g);
   if(pi==2){const tl=mk('text',{x:x,y:bot+42,'text-anchor':'middle','font-size':25},g);
    
    
    tl.textContent=c.xl[j];}});
 });
});
// legend
const lg=mk('g',{});


const rows=[2560,2597];
function ltext(x,y,s,name){const t=mk('text',{x:x,y:y+8,'font-size':23},lg);t.textContent=s;}
[[210,rows[0],COL.hres,'IFS HRES'],[210,rows[1],COL.fx,'FuXi'],[437,rows[0],COL.gc,'GraphCast'],[437,rows[1],COL.pw,'Pangu-Weather']].forEach(([x,y,col,s])=>{
 const c=mk('circle',{cx:x,cy:y,r:4.3,fill:'none',stroke:col,'stroke-width':2.2},lg);
 
 
 ltext(x+36,y,s,'legend-entry');});
mk('rect',{x:716,y:rows[0]-11,width:48,height:22,fill:'#14d6a0'},lg);ltext(783,rows[0],'25%-75% IFS ENS Spread','legend-entry');
mk('rect',{x:716,y:rows[1]-11,width:48,height:22,fill:'#a2ecdc'},lg);ltext(783,rows[1],'10%-90% IFS ENS Spread','legend-entry');
mk('rect',{x:1158,y:rows[0]-2,width:8,height:5,fill:'#e8000b'},lg);ltext(1207,rows[0],'IFS ENS Median','legend-entry');
mk('rect',{x:1138,y:rows[1]-11,width:48,height:22,fill:'#cccccc'},lg);ltext(1207,rows[1],'Warm Extremes','legend-entry');
mk('line',{x1:1448,x2:1494,y1:rows[0],y2:rows[0],stroke:'#7f7f7f','stroke-width':2.5,'stroke-dasharray':'9,4'},lg);ltext(1517,rows[0],'ERA5 90th percentile','legend-entry');
mk('line',{x1:1448,x2:1494,y1:rows[1],y2:rows[1],stroke:'#7f7f7f','stroke-width':2,'stroke-dasharray':'2,3'},lg);ltext(1517,rows[1],'HRES t0 90th percentile','legend-entry');
</script>
</body></html>
